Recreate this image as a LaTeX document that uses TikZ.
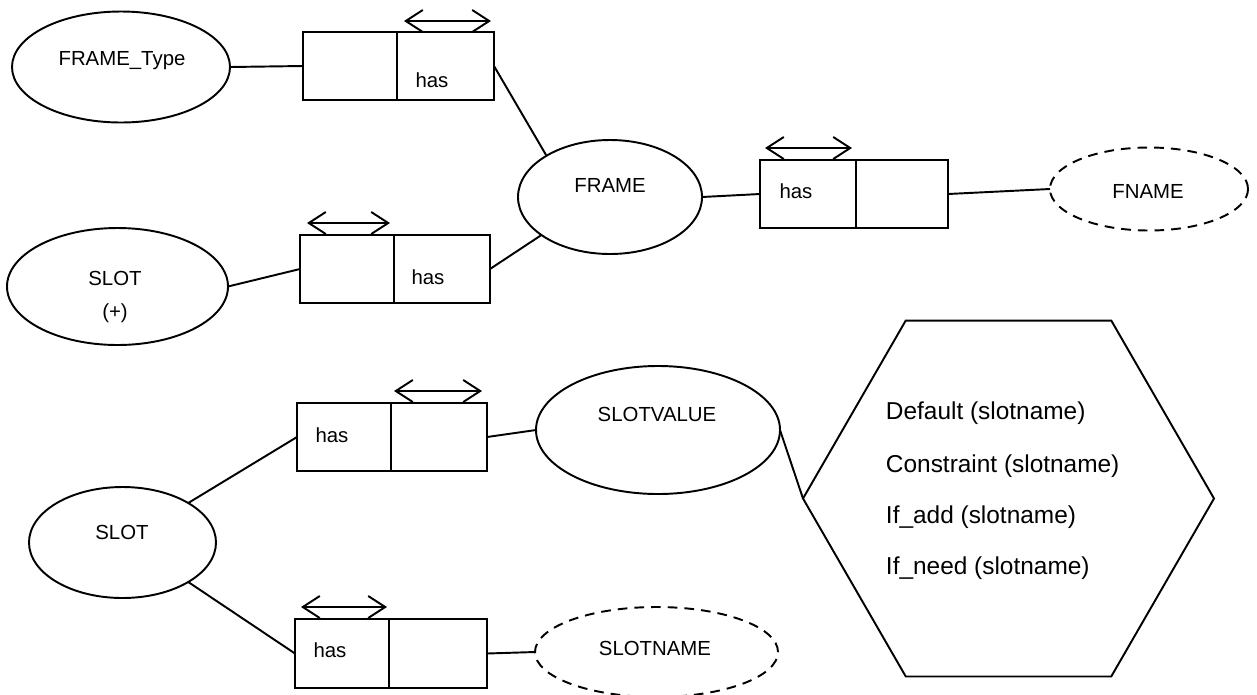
\documentclass[tikz,border=0pt]{standalone}
\usepackage{fontspec}
\setmainfont{Liberation Sans}
\usetikzlibrary{shapes.geometric,arrows.meta}
\begin{document}
\begin{tikzpicture}[x=0.02cm,y=-0.02cm, line width=1.1pt,
  ell/.style 2 args={ellipse,draw,inner sep=0pt,outer sep=0pt,minimum width={#1*0.02cm},minimum height={#2*0.02cm}},
  cell/.style 2 args={rectangle,draw,inner sep=0pt,outer sep=0pt,minimum width={#1*0.02cm},minimum height={#2*0.02cm}},
  lbl/.style={anchor=base,font=\fontsize{11.6}{13}\selectfont,inner sep=0pt},
  htxt/.style={anchor=base west,font=\fontsize{13.9}{16}\selectfont,inner sep=0pt},
  dbl/.style={{Straight Barb[length=0.34cm,width=0.44cm]}-{Straight Barb[length=0.34cm,width=0.44cm]}},
  dsh/.style={dash pattern=on 5.5pt off 4pt}]
\useasboundingbox (0,0) rectangle (1257,694);

% ellipses
\node[ell={218}{111}] (ft) at (121,67) {};
\node[lbl] (ftT) at (122,65) {FRAME\_Type};
\node[ell={184}{114}] (fr) at (610,197) {};
\node[lbl] (frT) at (610,192) {FRAME};
\node[ell={198}{83},dsh] (fn) at (1149,189) {};
\node[lbl] (fnT) at (1148,198) {FNAME};
\node[ell={221}{117}] (s1) at (117.5,286.5) {};
\node[lbl] (s1T) at (115,285) {SLOT};
\node[lbl] (s1P) at (115,318) {(+)};
\node[ell={187}{111}] (s2) at (122.5,542.5) {};
\node[lbl] (s2T) at (122,539) {SLOT};
\node[ell={244}{128}] (sv) at (658,430) {};
\node[lbl] (svT) at (657,421) {SLOTVALUE};
\node[ell={243}{90},dsh] (sn) at (656.5,652) {};
\node[lbl] (snT) at (655,655) {SLOTNAME};

% boxes
\node[cell={94}{68}] (b1l) at (350,66) {};
\node[cell={97}{68}] (b1r) at (445.5,66) {};
\node[lbl] (b1T) at (432,87) {has};
\node[cell={96}{68}] (b2l) at (808,194) {};
\node[cell={92}{68}] (b2r) at (902,194) {};
\node[lbl] (b2T) at (796,198) {has};
\node[cell={94}{68}] (b3l) at (347,269) {};
\node[cell={96}{68}] (b3r) at (442,269) {};
\node[lbl] (b3T) at (428,284) {has};
\node[cell={94}{68}] (b4l) at (344,437) {};
\node[cell={96}{68}] (b4r) at (439,437) {};
\node[lbl] (b4T) at (332,442) {has};
\node[cell={94}{69}] (b5l) at (342,653.5) {};
\node[cell={98}{69}] (b5r) at (438,653.5) {};
\node[lbl] (b5T) at (330,657) {has};

% hexagon
\node[regular polygon,regular polygon sides=6,draw,inner sep=0pt,outer sep=0pt,minimum size={411*0.02cm}] (hx) at (1008.5,498.5) {};
\node[htxt] (h1) at (885,419) {Default (slotname)};
\node[htxt] (h2) at (885,472) {Constraint (slotname)};
\node[htxt] (h3) at (885,523) {If\_add (slotname)};
\node[htxt] (h4) at (885,574) {If\_need (slotname)};

% double arrows
\coordinate (a1s) at (404,21); \coordinate (a1e) at (491,21);
\coordinate (a2s) at (765,148); \coordinate (a2e) at (852,148);
\coordinate (a3s) at (307,223); \coordinate (a3e) at (390,223);
\coordinate (a4s) at (394,391); \coordinate (a4e) at (482,391);
\coordinate (a5s) at (301,607); \coordinate (a5e) at (387,607);
\draw[dbl] (a1s) -- (a1e);
\draw[dbl] (a2s) -- (a2e);
\draw[dbl] (a3s) -- (a3e);
\draw[dbl] (a4s) -- (a4e);
\draw[dbl] (a5s) -- (a5e);

% connectors
\draw (ft.east) -- (b1l.west);
\draw (b1r.east) -- (fr.147);
\draw (b3r.east) -- (fr.209);
\draw (fr.east) -- (b2l.west);
\draw (b2r.east) -- (fn.west);
\draw (s1.east) -- (b3l.west);
\draw (s2.31) -- (b4l.west);
\draw (s2.-31) -- (b5l.west);
\draw (b4r.east) -- (sv.west);
\draw (b5r.east) -- (sn.west);
\draw (sv.east) -- (hx.west);
\end{tikzpicture}
\end{document}
